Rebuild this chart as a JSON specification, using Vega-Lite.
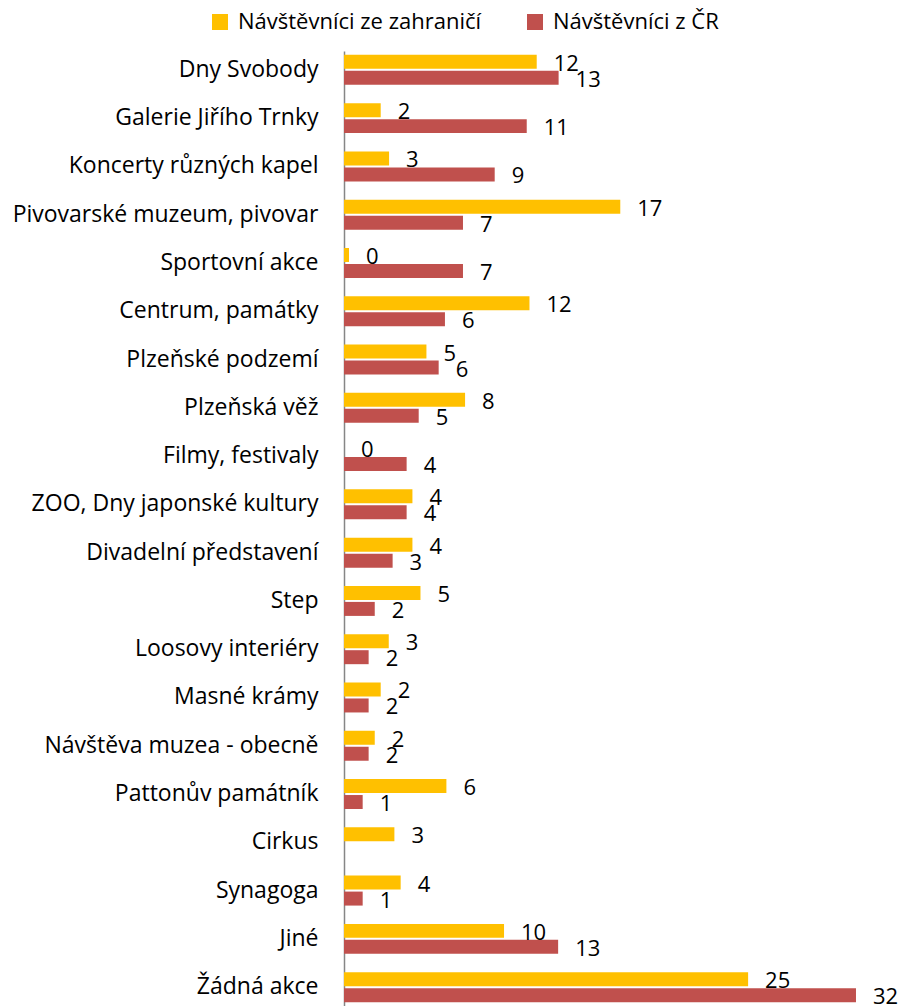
{
  "$schema": "https://vega.github.io/schema/vega-lite/v6.json",
  "width": 559,
  "height": 955,
  "autosize": "none",
  "padding": {"left": 344, "top": 51, "right": 0, "bottom": 0},
  "config": {"view": {"stroke": null}, "font": "Open Sans"},
  "data": {
    "values": [
      {"akce": "Dny Svobody", "skupina": "Návštěvníci ze zahraničí", "hodnota": 11.97},
      {"akce": "Dny Svobody", "skupina": "Návštěvníci z ČR", "hodnota": 13.33},
      {"akce": "Galerie Jiřího Trnky", "skupina": "Návštěvníci ze zahraničí", "hodnota": 2.28},
      {"akce": "Galerie Jiřího Trnky", "skupina": "Návštěvníci z ČR", "hodnota": 11.35},
      {"akce": "Koncerty různých kapel", "skupina": "Návštěvníci ze zahraničí", "hodnota": 2.8},
      {"akce": "Koncerty různých kapel", "skupina": "Návštěvníci z ČR", "hodnota": 9.36},
      {"akce": "Pivovarské muzeum,  pivovar", "skupina": "Návštěvníci ze zahraničí", "hodnota": 17.16},
      {"akce": "Pivovarské muzeum,  pivovar", "skupina": "Návštěvníci z ČR", "hodnota": 7.39},
      {"akce": "Sportovní akce", "skupina": "Návštěvníci ze zahraničí", "hodnota": 0.31},
      {"akce": "Sportovní akce", "skupina": "Návštěvníci z ČR", "hodnota": 7.39},
      {"akce": "Centrum, památky ", "skupina": "Návštěvníci ze zahraničí", "hodnota": 11.52},
      {"akce": "Centrum, památky ", "skupina": "Návštěvníci z ČR", "hodnota": 6.27},
      {"akce": "Plzeňské podzemí", "skupina": "Návštěvníci ze zahraničí", "hodnota": 5.12},
      {"akce": "Plzeňské podzemí", "skupina": "Návštěvníci z ČR", "hodnota": 5.88},
      {"akce": "Plzeňská věž", "skupina": "Návštěvníci ze zahraničí", "hodnota": 7.52},
      {"akce": "Plzeňská věž", "skupina": "Návštěvníci z ČR", "hodnota": 4.64},
      {"akce": "Filmy, festivaly ", "skupina": "Návštěvníci ze zahraničí", "hodnota": 0},
      {"akce": "Filmy, festivaly ", "skupina": "Návštěvníci z ČR", "hodnota": 3.89},
      {"akce": "ZOO, Dny japonské kultury", "skupina": "Návštěvníci ze zahraničí", "hodnota": 4.25},
      {"akce": "ZOO, Dny japonské kultury", "skupina": "Návštěvníci z ČR", "hodnota": 3.89},
      {"akce": "Divadelní představení", "skupina": "Návštěvníci ze zahraničí", "hodnota": 4.25},
      {"akce": "Divadelní představení", "skupina": "Návštěvníci z ČR", "hodnota": 3.02},
      {"akce": "Step", "skupina": "Návštěvníci ze zahraničí", "hodnota": 4.75},
      {"akce": "Step", "skupina": "Návštěvníci z ČR", "hodnota": 1.91},
      {"akce": "Loosovy interiéry", "skupina": "Návštěvníci ze zahraničí", "hodnota": 2.78},
      {"akce": "Loosovy interiéry", "skupina": "Návštěvníci z ČR", "hodnota": 1.53},
      {"akce": "Masné krámy ", "skupina": "Návštěvníci ze zahraničí", "hodnota": 2.28},
      {"akce": "Masné krámy ", "skupina": "Návštěvníci z ČR", "hodnota": 1.53},
      {"akce": "Návštěva muzea - obecně", "skupina": "Návštěvníci ze zahraničí", "hodnota": 1.91},
      {"akce": "Návštěva muzea - obecně", "skupina": "Návštěvníci z ČR", "hodnota": 1.53},
      {"akce": "Pattonův památník ", "skupina": "Návštěvníci ze zahraničí", "hodnota": 6.36},
      {"akce": "Pattonův památník ", "skupina": "Návštěvníci z ČR", "hodnota": 1.16},
      {"akce": "Cirkus", "skupina": "Návštěvníci ze zahraničí", "hodnota": 3.13},
      {"akce": "Synagoga", "skupina": "Návštěvníci ze zahraničí", "hodnota": 3.52},
      {"akce": "Synagoga", "skupina": "Návštěvníci z ČR", "hodnota": 1.16},
      {"akce": "Jiné", "skupina": "Návštěvníci ze zahraničí", "hodnota": 9.94},
      {"akce": "Jiné", "skupina": "Návštěvníci z ČR", "hodnota": 13.3},
      {"akce": "Žádná akce", "skupina": "Návštěvníci ze zahraničí", "hodnota": 25.1},
      {"akce": "Žádná akce", "skupina": "Návštěvníci z ČR", "hodnota": 31.8}
    ]
  },
  "encoding": {
    "y": {
      "field": "akce",
      "type": "nominal",
      "sort": null,
      "scale": {"paddingInner": 0.379, "paddingOuter": 0.08},
      "axis": {
        "title": null,
        "ticks": false,
        "tickSize": 0,
        "labelPadding": 26,
        "labelFontSize": 23,
        "labelFont": "Open Sans",
        "labelColor": "#000000",
        "labelLimit": 500,
        "domainColor": "#868686",
        "domainWidth": 1.5,
        "grid": false
      }
    },
    "yOffset": {
      "field": "skupina",
      "type": "nominal",
      "sort": ["Návštěvníci ze zahraničí", "Návštěvníci z ČR"],
      "scale": {"domain": ["Návštěvníci ze zahraničí", "Návštěvníci z ČR"], "paddingInner": 0.125, "paddingOuter": 0}
    },
    "x": {
      "field": "hodnota",
      "type": "quantitative",
      "scale": {"domain": [0, 34.72], "nice": false},
      "axis": null
    }
  },
  "layer": [
    {
      "mark": {"type": "bar"},
      "encoding": {
        "color": {
          "field": "skupina",
          "type": "nominal",
          "scale": {"domain": ["Návštěvníci ze zahraničí", "Návštěvníci z ČR"], "range": ["#FFC000", "#C0504D"]},
          "legend": {
            "title": null,
            "orient": "none",
            "legendX": -135,
            "legendY": -40,
            "direction": "horizontal",
            "symbolType": "square",
            "symbolSize": 256,
            "symbolStrokeWidth": 0,
            "labelFontSize": 22,
            "labelFont": "Open Sans",
            "labelColor": "#000000",
            "labelOffset": 7,
            "columnPadding": 42,
            "padding": 0,
            "labelLimit": 500
          }
        }
      }
    },
    {
      "mark": {"type": "text", "align": "left", "baseline": "middle", "dx": 17, "dy": 2, "fontSize": 22, "font": "Open Sans", "color": "#000000"},
      "encoding": {
        "text": {"field": "hodnota", "type": "quantitative", "format": ".0f"}
      }
    }
  ]
}
